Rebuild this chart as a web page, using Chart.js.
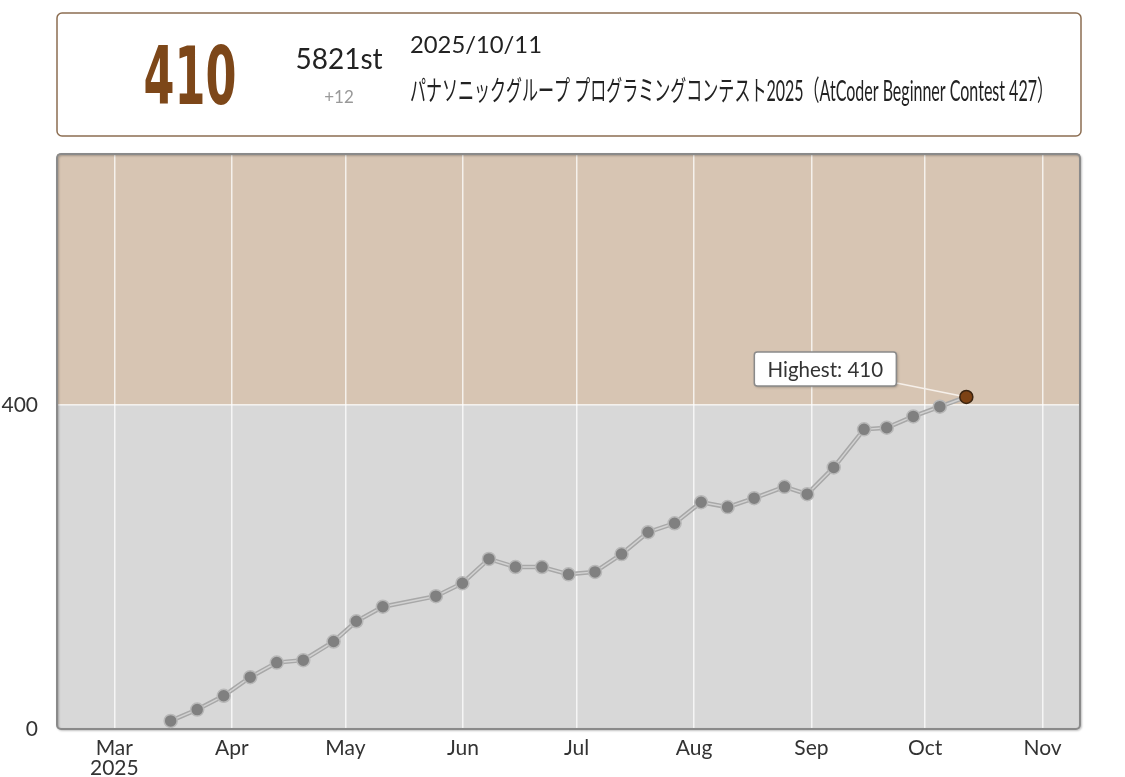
<!DOCTYPE html>
<html>
<head>
<meta charset="utf-8">
<script src="https://cdn.jsdelivr.net/npm/chart.js@4.4.1/dist/chart.umd.min.js"></script>
<style>
  html, body { margin: 0; padding: 0; background: #fff; }
  #wrap { position: relative; width: 1125px; height: 777px; }
</style>
</head>
<body>
<div id="wrap"><canvas id="c"></canvas></div>
<script>
// ---- data ----
const contestDates = ['2025-03-15','2025-03-22','2025-03-29','2025-04-05','2025-04-12','2025-04-19','2025-04-27',
  '2025-05-03','2025-05-10','2025-05-24','2025-05-31','2025-06-07','2025-06-14','2025-06-21','2025-06-28',
  '2025-07-05','2025-07-12','2025-07-19','2025-07-26','2025-08-02','2025-08-09','2025-08-16','2025-08-24',
  '2025-08-30','2025-09-06','2025-09-14','2025-09-20','2025-09-27','2025-10-04','2025-10-11'];
const ratings = [10,24,41,64,82,85,108,133,151,164,180,210,200,200,191,194,216,243,254,280,274,285,299,290,323,370,372,386,398,410];
const monthTicks = ['2025-03-01','2025-04-01','2025-05-01','2025-06-01','2025-07-01','2025-08-01','2025-09-01','2025-10-01','2025-11-01'];
const monthLabels = [['Mar','2025'],'Apr','May','Jun','Jul','Aug','Sep','Oct','Nov'];
const yTicks = [0, 400];
const bandBorder = 400;
const yMax = 710;
const header = {
  rating: '410',
  place: '5821st',
  diff: '+12',
  date: '2025/10/11',
  contest: 'パナソニックグループ プログラミングコンテスト2025（AtCoder Beginner Contest 427）'
};
const startHour = 21; // contest start, local time

// ---- helpers ----
const BASE = Date.UTC(2025, 2, 1);
function dayNum(s, hour) {
  const [y, m, d] = s.split('-').map(Number);
  return (Date.UTC(y, m - 1, d) - BASE) / 864e5 + (hour || 0) / 24;
}
const points = contestDates.map((d, i) => ({ x: dayNum(d, startHour), y: ratings[i] }));
const tickVals = monthTicks.map(d => dayNum(d, 0));
const xMin = points[0].x - 30;
const xMax = points[points.length - 1].x + 30;
let highestIdx = 0;
ratings.forEach((r, i) => { if (r >= ratings[highestIdx]) highestIdx = i; });

function rr(ctx, x, y, w, h, r) {
  ctx.beginPath();
  ctx.moveTo(x + r, y);
  ctx.lineTo(x + w - r, y);
  ctx.arcTo(x + w, y, x + w, y + r, r);
  ctx.lineTo(x + w, y + h - r);
  ctx.arcTo(x + w, y + h, x + w - r, y + h, r);
  ctx.lineTo(x + r, y + h);
  ctx.arcTo(x, y + h, x, y + h - r, r);
  ctx.lineTo(x, y + r);
  ctx.arcTo(x, y, x + r, y, r);
  ctx.closePath();
}

const bandsPlugin = {
  id: 'bands',
  beforeDraw(chart) {
    const { ctx, chartArea: a, scales: { y } } = chart;
    const yb = y.getPixelForValue(bandBorder);
    ctx.save();
    ctx.fillStyle = '#d7c5b3';
    ctx.fillRect(a.left, a.top, a.right - a.left, yb - a.top);
    ctx.fillStyle = '#d8d8d8';
    ctx.fillRect(a.left, yb, a.right - a.left, a.bottom - yb);
    ctx.restore();
  },
  beforeDatasetsDraw(chart) {
    const { ctx, chartArea: a } = chart;
    ctx.save();
    ctx.shadowColor = 'rgba(0,0,0,0.25)';
    ctx.shadowBlur = 2;
    ctx.shadowOffsetX = 1;
    ctx.shadowOffsetY = 1;
    ctx.strokeStyle = '#8a8a8a';
    ctx.lineWidth = 2;
    rr(ctx, a.left, a.top, a.right - a.left, a.bottom - a.top, 4);
    ctx.stroke();
    ctx.restore();
    const p = chart.getDatasetMeta(0).data[highestIdx];
    ctx.save();
    ctx.strokeStyle = '#f6f0ea';
    ctx.lineWidth = 1.5;
    ctx.beginPath();
    ctx.moveTo(p.x - 70, p.y - 14);
    ctx.lineTo(p.x, p.y);
    ctx.stroke();
    ctx.restore();
  },
  afterDatasetsDraw(chart) {
    const { ctx } = chart;
    const p = chart.getDatasetMeta(0).data[highestIdx];
    const w = 142, h = 34;
    const left = p.x - 70 - w, top = p.y - 11 - h;
    ctx.save();
    ctx.shadowColor = 'rgba(0,0,0,0.35)';
    ctx.shadowBlur = 3;
    ctx.shadowOffsetX = 1;
    ctx.shadowOffsetY = 1;
    ctx.fillStyle = '#fff';
    rr(ctx, left, top, w, h, 3);
    ctx.fill();
    ctx.shadowColor = 'transparent';
    ctx.strokeStyle = '#8a8a8a';
    ctx.lineWidth = 1.5;
    ctx.stroke();
    ctx.fillStyle = '#333';
    ctx.font = '20.5px Lato';
    ctx.textAlign = 'center';
    ctx.textBaseline = 'middle';
    ctx.fillText('Highest: ' + ratings[highestIdx], left + w / 2, top + h / 2 + 1);
    ctx.restore();
  },
  afterDraw(chart) {
    const { ctx } = chart;
    ctx.save();
    ctx.fillStyle = '#fff';
    ctx.strokeStyle = '#8c6e52';
    ctx.lineWidth = 1.5;
    rr(ctx, 57, 13, 1024, 123, 5);
    ctx.fill();
    ctx.stroke();
    ctx.fillStyle = '#7d4719';
    ctx.font = 'bold 80px "DejaVu Sans"';
    ctx.textAlign = 'center';
    ctx.textBaseline = 'alphabetic';
    ctx.fillText(header.rating, 190, 104, 93);
    ctx.fillStyle = '#222';
    ctx.font = '28px Lato';
    ctx.fillText(header.place, 339, 69);
    ctx.fillStyle = '#999';
    ctx.font = '17px Lato';
    ctx.fillText(header.diff, 339, 103);
    ctx.textAlign = 'left';
    ctx.fillStyle = '#222';
    ctx.font = '23.8px Lato';
    ctx.fillText(header.date, 410, 53);
    ctx.font = '28px Lato, "Noto Sans CJK JP"';
    ctx.fillText(header.contest, 410, 101, 643);
    ctx.restore();
  }
};

new Chart(document.getElementById('c'), {
  type: 'line',
  data: {
    datasets: [
      {
        data: points,
        order: 0,
        borderColor: '#d2d2d2',
        borderWidth: 1.5,
        pointRadius: 6.5,
        pointBackgroundColor: ctx => ctx.dataIndex === highestIdx ? '#7d4214' : '#808080',
        pointBorderColor: ctx => ctx.dataIndex === highestIdx ? '#3b2410' : '#b8b8b8',
        pointBorderWidth: 1.5,
        tension: 0
      },
      {
        data: points,
        order: 1,
        borderColor: '#a8a8a8',
        borderWidth: 4.5,
        pointRadius: 0,
        tension: 0
      }
    ]
  },
  options: {
    responsive: true,
    maintainAspectRatio: false,
    animation: false,
    events: [],
    layout: { padding: { left: 0, right: 45, top: 154, bottom: 0 } },
    plugins: { legend: { display: false }, tooltip: { enabled: false } },
    scales: {
      x: {
        type: 'linear',
        min: xMin,
        max: xMax,
        afterFit(s) { s.height = 48; },
        afterBuildTicks(s) { s.ticks = tickVals.map(v => ({ value: v })); },
        border: { display: false },
        grid: { color: 'rgba(255,255,255,0.75)', lineWidth: 1.5, drawTicks: false },
        ticks: {
          padding: 9,
          color: '#333',
          font: { family: 'Lato', size: 21, lineHeight: 0.95 },
          maxRotation: 0,
          autoSkip: false,
          callback(v, i) { return monthLabels[i]; }
        }
      },
      y: {
        type: 'linear',
        min: 0,
        max: yMax,
        afterFit(s) { s.width = 57; },
        afterBuildTicks(s) { s.ticks = yTicks.map(v => ({ value: v })); },
        border: { display: false },
        grid: { color: 'rgba(255,255,255,0.75)', lineWidth: 1.5, drawTicks: false },
        ticks: {
          padding: 19,
          color: '#333',
          font: { family: 'Lato', size: 21 },
          callback(v) { return String(v); }
        }
      }
    }
  },
  plugins: [bandsPlugin]
});
</script>
</body>
</html>
